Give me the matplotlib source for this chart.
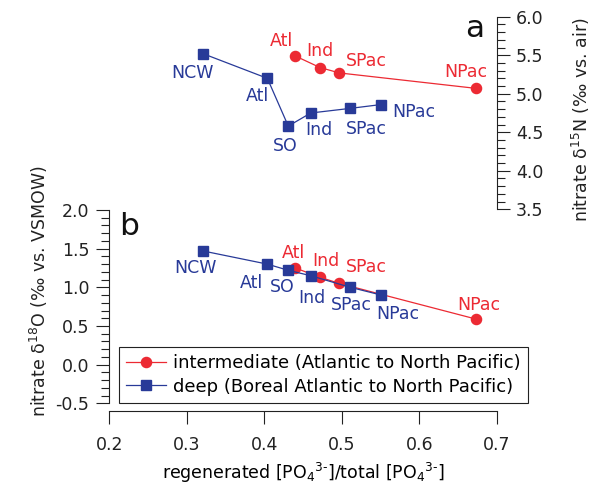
import matplotlib
matplotlib.use("Agg")
import matplotlib.pyplot as plt
from matplotlib.ticker import MultipleLocator, FormatStrFormatter

plt.rcParams['font.family'] = ['DejaVu Sans']
plt.rcParams['mathtext.fontset'] = 'dejavusans'

# Water-mass stations
int_names = ["Atl", "Ind", "SPac", "NPac"]
int_x = [0.440, 0.472, 0.497, 0.673]
int_d15n = [5.49, 5.34, 5.27, 5.07]
int_d18o = [1.25, 1.13, 1.05, 0.59]

deep_names = ["NCW", "Atl", "SO", "Ind", "SPac", "NPac"]
deep_x = [0.321, 0.404, 0.431, 0.460, 0.511, 0.551]
deep_d15n = [5.52, 5.20, 4.58, 4.75, 4.81, 4.86]
deep_d18o = [1.47, 1.30, 1.22, 1.15, 1.00, 0.90]

RED = '#EC2A33'
BLUE = '#283A98'

# label offsets (pixels) for each point label
int_off_a = [(-14, 15), (0, 17), (27, 12), (-10, 16)]
deep_off_a = [(-11, -19), (-10, -18), (-3, -20), (8, -17), (16, -21), (33, -7)]
int_off_b = [(-2, 15), (6, 16), (27, 16), (3, 14)]
deep_off_b = [(-8, -17), (-16, -19), (-6, -17), (1, -22), (1, -18), (17, -19)]

W, H = 591, 484
fig = plt.figure(figsize=(W / 100, H / 100), dpi=100)

x0, x1 = 109.3, 496.7
ax_a = fig.add_axes([x0 / W, (H - 209.3) / H, (x1 - x0) / W, 192.6 / H])
ax_b = fig.add_axes([x0 / W, (H - 403.3) / H, (x1 - x0) / W, 193.3 / H])

fs = 12.5
lw = 0.9
INK = '#222222'

def style_ticks(ax, axis):
    ax.tick_params(axis=axis, which='major', direction='out', length=9.5,
                   width=0.8, labelsize=fs, colors=INK)
    ax.tick_params(axis=axis, which='minor', direction='out', length=6,
                   width=0.8, colors=INK)

# ---- panel a: nitrate d15N ----
ax_a.set_xlim(0.2, 0.7)
ax_a.set_ylim(3.5, 6.0)
for s in ['left', 'top', 'bottom']:
    ax_a.spines[s].set_visible(False)
ax_a.spines['right'].set_linewidth(0.8)
ax_a.spines['right'].set_color(INK)
ax_a.yaxis.tick_right()
ax_a.set_xticks([])
ax_a.yaxis.set_major_locator(MultipleLocator(0.5))
ax_a.yaxis.set_minor_locator(MultipleLocator(0.1))
ax_a.yaxis.set_major_formatter(FormatStrFormatter('%.1f'))
style_ticks(ax_a, 'y')
ax_a.tick_params(axis='y', which='major', pad=4.5)
ax_a.patch.set_visible(False)

ax_a.plot(int_x, int_d15n, color=RED, lw=lw, marker='o', ms=7.3, mec=RED, mfc=RED)
ax_a.plot(deep_x, deep_d15n, color=BLUE, lw=lw, marker='s', ms=7.5, mec=BLUE, mfc=BLUE)
for n, x, y, o in zip(int_names, int_x, int_d15n, int_off_a):
    ax_a.annotate(n, (x, y), xytext=o, textcoords='offset pixels', ha='center',
                  va='center', color=RED, fontsize=fs)
for n, x, y, o in zip(deep_names, deep_x, deep_d15n, deep_off_a):
    ax_a.annotate(n, (x, y), xytext=o, textcoords='offset pixels', ha='center',
                  va='center', color=BLUE, fontsize=fs)
ax_a.text(0.6835, 5.74, 'a', fontsize=22.5, ha='right', va='baseline', color='#111111')

# ---- panel b: nitrate d18O ----
ax_b.set_xlim(0.2, 0.7)
ax_b.set_ylim(-0.5, 2.0)
for s in ['right', 'top']:
    ax_b.spines[s].set_visible(False)
for s in ['left', 'bottom']:
    ax_b.spines[s].set_linewidth(0.8)
    ax_b.spines[s].set_color(INK)
ax_b.spines['bottom'].set_position(('outward', 5.3))
ax_b.xaxis.set_major_locator(MultipleLocator(0.1))
ax_b.yaxis.set_major_locator(MultipleLocator(0.5))
ax_b.yaxis.set_minor_locator(MultipleLocator(0.1))
ax_b.xaxis.set_major_formatter(FormatStrFormatter('%.1f'))
ax_b.yaxis.set_major_formatter(FormatStrFormatter('%.1f'))
style_ticks(ax_b, 'y')
style_ticks(ax_b, 'x')
ax_b.tick_params(axis='x', which='major', pad=9)
ax_b.tick_params(axis='y', which='major', pad=5)
ax_b.patch.set_visible(False)

ax_b.plot(int_x, int_d18o, color=RED, lw=lw, marker='o', ms=7.3, mec=RED, mfc=RED,
          label='intermediate (Atlantic to North Pacific)')
ax_b.plot(deep_x, deep_d18o, color=BLUE, lw=lw, marker='s', ms=7.5, mec=BLUE, mfc=BLUE,
          label='deep (Boreal Atlantic to North Pacific)')
for n, x, y, o in zip(int_names, int_x, int_d18o, int_off_b):
    ax_b.annotate(n, (x, y), xytext=o, textcoords='offset pixels', ha='center',
                  va='center', color=RED, fontsize=fs)
for n, x, y, o in zip(deep_names, deep_x, deep_d18o, deep_off_b):
    ax_b.annotate(n, (x, y), xytext=o, textcoords='offset pixels', ha='center',
                  va='center', color=BLUE, fontsize=fs)
ax_b.text(0.213, 1.677, 'b', fontsize=22.5, ha='left', va='baseline', color='#111111')
ax_b.set_xlabel(r'regenerated [PO$_4{}^{3\text{-}}$]/total [PO$_4{}^{3\text{-}}$]',
                fontsize=fs, labelpad=5)

# axis titles for the two vertical scales
fig.text(39 / W, 1 - 291 / H, r'nitrate δ$^{18}$O (‰ vs. VSMOW)', rotation=90,
         ha='center', va='center', fontsize=fs, color=INK)
fig.text(581 / W, 1 - 120 / H, r'nitrate δ$^{15}$N (‰ vs. air)', rotation=90,
         ha='center', va='center', fontsize=fs, color=INK)

leg = ax_b.legend(loc='lower left', bbox_to_anchor=(119 / W, (H - 403) / H),
                  bbox_transform=fig.transFigure, fontsize=13, frameon=True,
                  fancybox=False, edgecolor=INK, framealpha=1,
                  handlelength=2.2, handletextpad=0.4, borderpad=0.4,
                  labelspacing=0.3, borderaxespad=0)
leg.get_frame().set_linewidth(0.8)

fig.savefig('out.png', dpi=100)
